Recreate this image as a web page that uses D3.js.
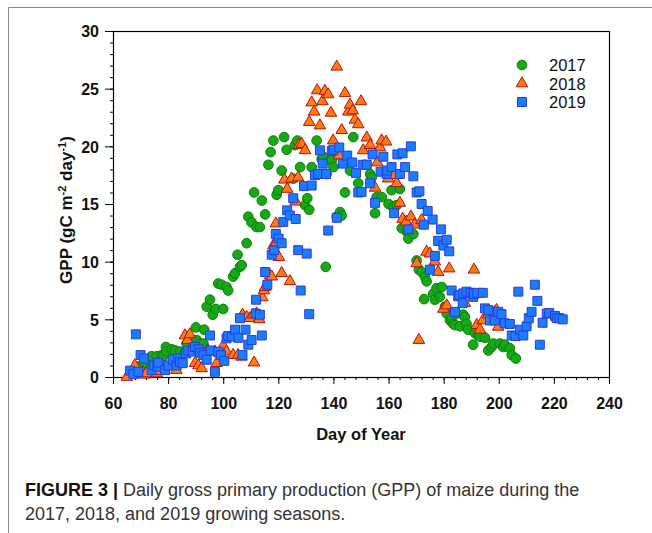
<!DOCTYPE html>
<html>
<head>
<meta charset="utf-8">
<script src="https://cdn.jsdelivr.net/npm/d3@7.9.0/dist/d3.min.js"></script>
<style>
  html, body { margin: 0; padding: 0; background: #fff; }
  svg { display: block; font-family: "Liberation Sans", Arial, sans-serif; }
</style>
</head>
<body>
<svg id="chart" width="652" height="533"></svg>
<script>
// day of year, GPP (gC m-2 day-1)
const gpp2017 = [
  [68.6,0.9],[70.4,1.0],[71.6,0.9],[72.8,1.5],[74,1.8],[75.9,1.8],[77.7,1.9],[78.3,1.8],
  [79.2,2.6],[79.5,2.2],[81.3,2.4],[82.5,2.3],[84.3,2.2],[86.1,2.1],[86.7,2.9],[89.1,3.1],
  [90.1,4.3],[90.4,3.2],[91.6,2.9],[92.8,2.9],[93.1,4.1],[94,6.1],[95.2,6.7],[96.2,5.4],
  [97.3,5.9],[98.2,8.1],[99.4,8.0],[100,5.9],[101.2,7.8],[101.8,7.5],[103.6,8.7],[104.3,9.0],
  [105.2,10.6],[106.1,9.55],[106.7,9.7],[108.5,11.6],[109.1,13.9],[110.3,13.4],[111.2,16.0],
  [112.1,13.0],[113.3,13.0],[114,15.3],[115.2,14.1],[116.4,18.4],[117.2,19.5],[118.2,20.5],
  [119.4,15.8],[120,16.2],[121.2,17.9],[122.1,20.8],[123,19.7],[125.4,17.2],[126,20.1],
  [126.9,20.5],[127.9,18.2],[129.7,14.9],[130.5,15.5],[131.2,14.5],[132.1,18.2],[133.9,20.5],
  [135.7,18.9],[136.3,19.1],[137.2,9.55],[137.5,17.6],[138.7,18.8],[139.4,18.8],[140,18.2],
  [141.2,13.9],[142.4,14.3],[143,14.0],[144.2,16.0],[146,17.9],[147.2,20.8],[149,16.8],
  [151.4,18.4],[153.3,17.6],[153.9,17.3],[155.1,14.2],[155.7,15.6],[157.5,15.6],[160,15.0],
  [161.1,16.2],[161.7,14.7],[163,14.9],[164.1,16.3],[164.8,12.9],[166.6,12.6],[167.2,12.0],
  [169,12.4],[170.2,10.1],[171,9.3],[172,9.1],[172.9,6.75],[173.2,8.7],[173.8,8.3],[176.2,7.2],
  [176.8,6.7],[177.4,7.7],[178.6,6.95],[179.3,7.8],[180.5,6.1],[181.1,5.5],[182.3,4.9],
  [182.9,5.1],[183.5,4.6],[184.1,4.5],[184.7,5.5],[185.9,4.4],[187.1,5.4],[187.7,5.2],
  [188.3,4.6],[188.9,4.1],[190.7,2.8],[191.4,3.8],[192.6,3.6],[193.2,3.5],[195,3.4],
  [196.2,2.3],[197.4,2.6],[198,2.9],[200.4,2.9],[201.6,2.6],[202.2,2.8],[204,2.5],
  [204.7,1.9],[206.2,1.6]
];

const gpp2018 = [
  [65,0.0],[67.9,1.0],[70.9,0.4],[71.5,0.2],[72,0.3],[75.9,0.3],[76.4,0.5],[79,0.9],
  [83,0.6],[86.1,3.6],[87,3.2],[87.8,2.3],[87.9,3.7],[89,2.5],[89.8,1.2],[91,1.0],
  [92.2,0.75],[94,2.2],[94.5,2.3],[97,2.2],[97.6,1.2],[98.7,2.05],[100,2.7],[101.2,2.2],
  [103.6,1.9],[105.4,1.9],[106.6,1.75],[107,5.4],[108.5,5.2],[109.7,5.1],[110.9,5.4],
  [111.2,1.25],[112.1,5.5],[113.1,5.0],[114.2,6.9],[114.8,7.5],[115.2,7.8],[117,8.8],
  [117.6,8.7],[118.2,11.4],[119.1,13.3],[119.4,11.7],[120.2,10.4],[121.2,9.0],[122.2,17.1],
  [123.2,16.3],[124.2,8.3],[124.8,17.2],[126.3,15.2],[127.2,17.3],[127.5,20.1],[128.5,20.2],
  [129.7,19.65],[131.2,22.1],[132.1,23.8],[133,23.0],[134.1,24.85],[135.1,21.8],[136,23.9],
  [136.9,24.8],[138.1,24.5],[139.1,22.9],[139.9,20.5],[141.2,26.9],[142,19.2],[143,21.4],
  [144.2,24.6],[145.4,23.0],[146,23.6],[147,23.1],[147.8,22.3],[149,21.9],[150,23.9],
  [150.8,19.65],[152.1,20.75],[153.3,20.1],[155.1,16.4],[155.9,18.6],[156.9,19.9],
  [157.5,20.5],[159.1,20.4],[159.9,17.2],[162,17.5],[163,16.8],[164.1,15.1],[165.1,13.7],
  [166.4,13.45],[168.1,13.9],[169.4,13.2],[170.2,9.85],[171,3.2],[172,13.6],[173.8,10.85],
  [175,10.7],[176.8,10.0],[178,9.1],[179.9,5.9],[181.1,6.2],[182,9.4],[187.7,6.4],[191,9.3],
  [192,4.5],[193.2,4.1],[194.2,4.9],[196.2,5.4],[198.4,5.6],[199.2,5.8],[199.8,4.35]
];

const gpp2019 = [
  [66.2,0.55],[67.4,0.25],[68.3,3.7],[69.2,0.45],[70,1.9],[71.2,1.6],[74,0.6],[74.9,1.0],
  [76.1,0.9],[76.4,1.25],[78.9,0.6],[80.1,1.0],[81.7,1.5],[83.1,1.0],[83.7,1.6],[84.3,1.3],
  [85.3,1.2],[86.5,2.05],[87.3,2.3],[88.9,2.2],[89.8,2.6],[91,2.4],[91.6,2.1],[92.8,1.9],
  [94,1.5],[95.2,3.6],[95.5,2.3],[97,0.45],[98.2,2.2],[99.2,1.9],[100.4,1.4],[101.2,3.35],
  [101.8,3.55],[103.1,3.5],[104.3,4.1],[105.5,3.4],[106.1,5.1],[107,1.9],[108.1,4.1],
  [109.1,2.8],[110.3,3.2],[111.8,5.5],[111.9,6.7],[113.3,5.4],[114,3.6],[115.2,9.1],[116,8.0],
  [117.6,10.6],[118.5,11.0],[119.1,12.4],[120.1,12.0],[121.2,11.6],[121.8,13.45],[123.2,14.45],
  [124.2,14.0],[125.4,15.5],[126.3,13.7],[127.2,11.0],[128.1,7.5],[129.3,16.55],[130.3,10.7],
  [131.2,5.45],[132.1,16.6],[133.3,17.5],[134.5,17.6],[135.1,19.65],[136.1,18.5],[137.3,17.6],
  [138.1,12.7],[139.4,19.6],[140,19.7],[141.2,13.8],[142.1,19.9],[143.4,18.5],[145,19.2],
  [146.8,18.6],[148.2,17.7],[149,16.0],[150.2,16.05],[150.6,18.4],[152.1,18.4],[153.3,16.8],
  [154.2,19.3],[155.1,15.1],[157.1,17.8],[158.1,19.1],[159.3,17.6],[159.5,17.9],[161.1,18.2],
  [162,14.2],[163.2,19.3],[164.1,17.6],[165.1,19.4],[166,18.2],[167.2,12.8],[168.1,20.0],
  [169,17.4],[170.2,16.0],[171.2,16.1],[172,15.0],[172.8,13.2],[174.2,14.4],[175,9.3],
  [176,13.65],[176.8,10.5],[178,11.8],[179,12.8],[179.9,11.4],[181.1,11.9],[182,10.9],
  [182.9,7.5],[184.1,5.65],[185.3,7.0],[185.7,7.1],[186.9,6.4],[187.1,7.25],[188.3,7.4],
  [189.8,7.3],[190.7,6.95],[191,7.2],[192.2,7.3],[194.2,7.3],[195,5.95],[196.2,5.8],
  [196.8,4.9],[198.6,4.9],[199.8,5.65],[201,5.45],[202.2,4.65],[204,4.6],[204.7,3.6],
  [206.1,3.55],[207.1,7.4],[207.7,4.1],[208.9,3.6],[210.1,4.4],[210.9,5.1],[211.9,5.65],
  [213.1,8.0],[214,6.6],[214.9,2.8],[215.9,4.7],[217.4,5.5],[218.3,5.55],[220.4,5.3],
  [221,5.1],[222,5.1],[223.2,5.0]
];

const years   = ['2017', '2018', '2019'];
const xTicks  = [60, 80, 100, 120, 140, 160, 180, 200, 220, 240];
const yTicks  = [0, 5, 10, 15, 20, 25, 30];

const svg = d3.select('#chart');

// figure frame (top + left rule of the journal figure box)
svg.append('path')
   .attr('d', 'M8.5,533 V7.5 H652')
   .attr('fill', 'none')
   .attr('stroke', '#8a8a8a')
   .attr('stroke-width', 1);

const plotL = 113, plotR = 609, plotT = 31, plotB = 377;

const x = d3.scaleLinear().domain([60, 240]).range([plotL, plotR]);
const y = d3.scaleLinear().domain([0, 30]).range([plotB, plotT]);

// minor ticks
svg.append('g')
   .attr('transform', `translate(0,${plotB})`)
   .call(d3.axisBottom(x).tickValues(d3.range(60, 241, 4)).tickSize(3).tickFormat(''))
   .call(g => g.select('.domain').remove());
svg.append('g')
   .attr('transform', `translate(${plotL},0)`)
   .call(d3.axisLeft(y).tickValues(d3.range(0, 31, 1)).tickSize(3).tickFormat(''))
   .call(g => g.select('.domain').remove());

// major ticks
const xAxis = svg.append('g')
   .attr('transform', `translate(0,${plotB})`)
   .call(d3.axisBottom(x).tickValues(xTicks).tickSize(7).tickPadding(14).tickSizeOuter(0));
const yAxis = svg.append('g')
   .attr('transform', `translate(${plotL},0)`)
   .call(d3.axisLeft(y).tickValues(yTicks).tickSize(8).tickPadding(6).tickSizeOuter(0));

[xAxis, yAxis].forEach(g => {
  g.select('.domain').remove();
  g.selectAll('text')
   .attr('fill', '#111')
   .style('font-size', '16px')
   .style('font-weight', 'bold')
   .style('font-family', '"Liberation Sans", Arial, sans-serif');
});
yAxis.selectAll('text').attr('dy', '0.36em');

// plot box
svg.append('rect')
   .attr('x', plotL + 0.5).attr('y', plotT + 0.5)
   .attr('width', plotR - plotL).attr('height', plotB - plotT)
   .attr('fill', 'none').attr('stroke', '#000').attr('stroke-width', 1.2);

// axis titles
svg.append('text')
   .attr('x', (plotL + plotR) / 2).attr('y', 440)
   .attr('text-anchor', 'middle')
   .style('font-size', '16.5px').style('font-weight', 'bold')
   .attr('fill', '#111')
   .text('Day of Year');

const yTitle = svg.append('text')
   .attr('transform', `translate(72,${(plotT + plotB) / 2 + 6}) rotate(-90)`)
   .attr('text-anchor', 'middle')
   .style('font-size', '17px').style('font-weight', 'bold')
   .attr('fill', '#111');
yTitle.append('tspan').text('GPP (gC m');
yTitle.append('tspan').attr('dy', -6).style('font-size', '11px').text('-2');
yTitle.append('tspan').attr('dy', 6).text(' day');
yTitle.append('tspan').attr('dy', -6).style('font-size', '11px').text('-1');
yTitle.append('tspan').attr('dy', 6).text(')');

// markers
const styles = {
  '2017': { type: d3.symbolCircle,   size: 74, fill: '#16a816', stroke: '#0c7f0c' },
  '2018': { type: d3.symbolTriangle, size: 58, fill: '#ff7a10', stroke: '#b3140c' },
  '2019': { type: d3.symbolSquare,   size: 80, fill: '#1a7cff', stroke: '#2a3cd8' }
};
const series = { '2017': gpp2017, '2018': gpp2018, '2019': gpp2019 };

years.forEach(yr => {
  const s = styles[yr];
  svg.append('g')
     .selectAll('path')
     .data(series[yr])
     .join('path')
     .attr('transform', d => `translate(${x(d[0])},${y(d[1])})`)
     .attr('d', d3.symbol(s.type, s.size))
     .attr('fill', s.fill)
     .attr('stroke', s.stroke)
     .attr('stroke-width', 1);
});

// legend
const legend = svg.append('g');
years.forEach((yr, i) => {
  const s = styles[yr];
  const ly = 65 + i * 18.5;
  legend.append('path')
        .attr('transform', `translate(522,${ly})`)
        .attr('d', d3.symbol(s.type, s.size))
        .attr('fill', s.fill).attr('stroke', s.stroke);
  legend.append('text')
        .attr('x', 549).attr('y', ly + 6)
        .style('font-size', '16.5px')
        .attr('fill', '#111')
        .text(yr);
});

// caption
const cap = svg.append('text')
   .attr('x', 25).attr('y', 496)
   .style('font-size', '18px')
   .attr('fill', '#333');
cap.append('tspan').style('font-weight', 'bold').attr('fill', '#111').text('FIGURE 3 | ');
cap.append('tspan').text('Daily gross primary production (GPP) of maize during the');
svg.append('text')
   .attr('x', 25).attr('y', 520)
   .style('font-size', '18px')
   .attr('fill', '#333')
   .text('2017, 2018, and 2019 growing seasons.');
</script>
</body>
</html>
